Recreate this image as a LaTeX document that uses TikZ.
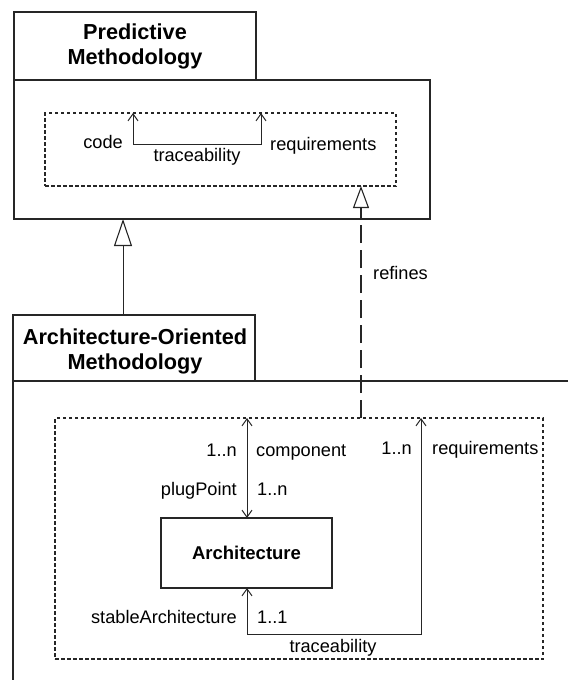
\documentclass[tikz,border=0pt]{standalone}
\usepackage{fontspec}
\setmainfont{Liberation Sans}
\usetikzlibrary{arrows.meta}
\begin{document}
\begin{tikzpicture}[x=1pt,y=-1pt,
  pkg/.style={draw=black!85,line width=1.5pt},
  dbox/.style={draw=black!85,line width=1.1pt,dash pattern=on 3.5pt off 2.5pt},
  lbl/.style={font=\fontsize{18.2}{21}\selectfont,inner sep=0pt,text height=13pt,text depth=0pt},
  ttl/.style={font=\fontsize{21.7}{25}\bfseries\selectfont,align=center,inner sep=0pt},
  assoc/.style={draw=black!85,line width=1pt},
  barb/.tip={Straight Barb[length=7pt,width=10pt,line width=1pt]},
  gen/.style={-{Triangle[open,length=27pt,width=18pt,line width=1.1pt]},draw=black!85,line width=1pt},
  refn/.style={-{Triangle[open,length=22pt,width=16pt,line width=1.1pt]},draw=black!85,line width=1.1pt,dash pattern=on 18pt off 7pt}
]
\useasboundingbox (0,0) rectangle (568,680);
% top package
\node[pkg,minimum width=242pt,minimum height=68pt,inner sep=0pt] (ptab) at (135,46) {};
\node[ttl] (ptitle) at (135,46) {Predictive\\Methodology};
\node[pkg,minimum width=416pt,minimum height=139pt,inner sep=0pt] (pbody) at (222,149.5) {};
\node[dbox,minimum width=351pt,minimum height=73pt,inner sep=0pt] (pin) at (220.5,149.5) {};
\coordinate (c1) at (133,113);
\coordinate (c2) at (133,144);
\coordinate (c3) at (261,144);
\coordinate (c4) at (261,113);
\draw[assoc,barb-barb] (c1) -- (c2) -- (c3) -- (c4);
\node[lbl,anchor=east] (lcode) at (123,142) {code};
\node[lbl] (ltr1) at (197,155) {traceability};
\node[lbl,anchor=west] (lreq1) at (270,144) {requirements};
% lower package
\node[pkg,minimum width=242pt,minimum height=66pt,inner sep=0pt] (atab) at (134,348) {};
\node[ttl] (atitle) at (135,351) {Architecture-Oriented\\Methodology};
\coordinate (b1) at (568,381);
\coordinate (b2) at (13,381);
\coordinate (b3) at (13,681);
\draw[pkg] (b1) -- (b2) -- (b3);
\node[dbox,minimum width=488pt,minimum height=241pt,inner sep=0pt] (ain) at (299,538.5) {};
\node[pkg,line width=1.4pt,minimum width=171pt,minimum height=70pt,inner sep=0pt,font=\fontsize{18.5}{21}\bfseries\selectfont] (arch) at (246.5,553) {Architecture};
% generalization
\coordinate (g1) at (123,315);
\coordinate (g2) at (123,219);
\draw[gen] (g1) -- (g2);
% refines
\coordinate (r1) at (361,418);
\coordinate (r2) at (361,186);
\draw[refn] (r1) -- (r2);
\node[lbl,anchor=west] (lref) at (373,273) {refines};
% component / plugPoint
\coordinate (k1) at (247,418);
\coordinate (k2) at (247,518);
\draw[assoc,barb-barb] (k1) -- (k2);
% traceability
\coordinate (t1) at (247,588);
\coordinate (t2) at (247,634);
\coordinate (t3) at (421,634);
\coordinate (t4) at (421,418);
\draw[assoc,barb-barb] (t1) -- (t2) -- (t3) -- (t4);
% labels
\node[lbl,anchor=east] (m1) at (237,450) {1..n};
\node[lbl,anchor=west] (m2) at (256,450) {component};
\node[lbl,anchor=east] (m3) at (237,489) {plugPoint};
\node[lbl,anchor=west] (m4) at (257,489) {1..n};
\node[lbl,anchor=east] (m5) at (412,448) {1..n};
\node[lbl,anchor=west] (m6) at (432,448) {requirements};
\node[lbl,anchor=east] (m7) at (237,617) {stableArchitecture};
\node[lbl,anchor=west] (m8) at (257,617) {1..1};
\node[lbl] (m9) at (333,646) {traceability};
\end{tikzpicture}
\end{document}
